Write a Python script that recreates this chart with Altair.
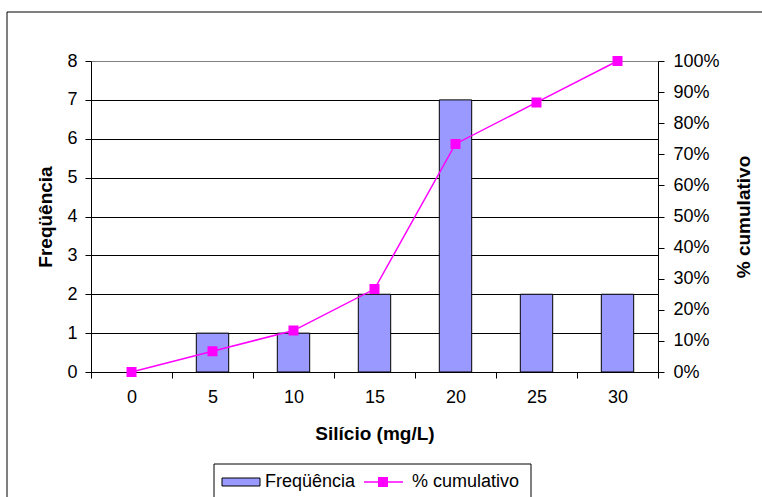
import altair as alt
import pandas as pd

# Histogram of silicon concentration with cumulative percentage
classes = ["0", "5", "10", "15", "20", "25", "30"]
frequency = [0, 1, 1, 2, 7, 2, 2]
cumulative = [0.0, 0.0667, 0.1333, 0.2667, 0.7333, 0.8667, 1.0]
bar_series = "Freqüência"
line_series = "% cumulativo"
freq_ticks = [0, 1, 2, 3, 4, 5, 6, 7, 8]
pct_ticks = [0.0, 0.1, 0.2, 0.3, 0.4, 0.5, 0.6, 0.7, 0.8, 0.9, 1.0]

FONT = "Liberation Sans"
BAR_FILL = "#9999FF"
LINE_COLOR = "#FF00FF"

bars_df = pd.DataFrame({"classe": classes, "freq": frequency, "serie_barra": bar_series})
line_df = pd.DataFrame({"classe": classes, "pct": cumulative, "serie_linha": line_series})

legend_common = dict(
    title=None,
    orient="none",
    legendY=412,
    padding=0,
    symbolSize=100,
    labelFont=FONT,
    labelFontSize=18,
    labelColor="black",
)

# Legend swatches drawn as custom paths (units scaled by sqrt(size)/2)
bar_legend = alt.Legend(
    legendX=127,
    labelOffset=29,
    symbolType="M-1,-0.8H6.6V0.8H-1Z",
    symbolStrokeColor="black",
    symbolStrokeWidth=1,
    symbolFillColor=BAR_FILL,
    symbolOpacity=1,
    **legend_common,
)
line_legend = alt.Legend(
    legendX=269,
    labelOffset=34,
    symbolType="M-1,0H6.8M1.95,-0.85H3.65V0.85H1.95Z",
    symbolStrokeColor=LINE_COLOR,
    symbolStrokeWidth=1.5,
    symbolFillColor=LINE_COLOR,
    symbolOpacity=1,
    **legend_common,
)

x_enc = alt.X(
    "classe:N",
    sort=classes,
    scale=alt.Scale(paddingInner=0, paddingOuter=0),
    axis=alt.Axis(
        title="Silício (mg/L)",
        labelAngle=0,
        tickBand="extent",
        tickSize=6,
        labelPadding=10,
        titleY=61,
        titleBaseline="middle",
    ),
)

# Outer frame around the whole chart and the legend box
frame = (
    alt.Chart(pd.DataFrame({"k": [0]}))
    .mark_rect(filled=False, stroke="black", strokeWidth=1)
    .encode(x=alt.value(-84), x2=alt.value(676), y=alt.value(-49), y2=alt.value(441))
)
legend_box = (
    alt.Chart(pd.DataFrame({"k": [0]}))
    .mark_rect(filled=False, stroke="black", strokeWidth=1)
    .encode(x=alt.value(123), x2=alt.value(440), y=alt.value(403), y2=alt.value(445))
)

bars = (
    alt.Chart(bars_df)
    .mark_bar(width=alt.RelativeBandSize(0.4), stroke="black", strokeWidth=1, opacity=1)
    .encode(
        x=x_enc,
        y=alt.Y(
            "freq:Q",
            scale=alt.Scale(domain=[0, 8], nice=False),
            axis=alt.Axis(
                title="Freqüência",
                values=freq_ticks,
                grid=True,
                gridColor={"condition": {"test": "datum.value === 8", "value": "#808080"}, "value": "black"},
                gridOpacity=1,
                tickSize=6,
                labelPadding=8,
                titleX=-46,
                titleY=155.5,
                titleAngle=270,
                titleBaseline="middle",
            ),
        ),
        fill=alt.Fill(
            "serie_barra:N",
            scale=alt.Scale(domain=[bar_series], range=[BAR_FILL]),
            legend=bar_legend,
        ),
    )
    .transform_filter("datum.freq > 0")
)

line = (
    alt.Chart(line_df)
    .mark_line(
        strokeWidth=1.5,
        point=alt.OverlayMarkDef(shape="square", size=64, filled=True, fill=LINE_COLOR, opacity=1),
    )
    .encode(
        x=x_enc,
        y=alt.Y(
            "pct:Q",
            scale=alt.Scale(domain=[0, 1], nice=False),
            axis=alt.Axis(
                title="% cumulativo",
                orient="right",
                format=".0%",
                values=pct_ticks,
                grid=False,
                tickSize=6,
                labelPadding=9,
                titleX=85,
                titleY=155.5,
                titleAngle=270,
                titleBaseline="middle",
            ),
        ),
        stroke=alt.Stroke(
            "serie_linha:N",
            scale=alt.Scale(domain=[line_series], range=[LINE_COLOR]),
            legend=line_legend,
        ),
    )
)

chart = (
    alt.layer(frame, legend_box, bars, line)
    .resolve_scale(y="independent")
    .properties(
        width=567,
        height=311,
        autosize=alt.AutoSizeParams(type="none"),
        padding={"left": 91, "top": 61, "right": 104, "bottom": 125},
        background="white",
    )
    .configure_view(stroke="#808080", strokeWidth=1)
    .configure_axis(
        labelFont=FONT,
        labelFontSize=18,
        labelColor="black",
        titleFont=FONT,
        titleFontSize=19,
        titleFontWeight="bold",
        titleColor="black",
        domainColor="black",
        tickColor="black",
        domainWidth=1,
        tickWidth=1,
    )
)

chart.save("out.html", embed_options={"renderer": "svg", "actions": False})
